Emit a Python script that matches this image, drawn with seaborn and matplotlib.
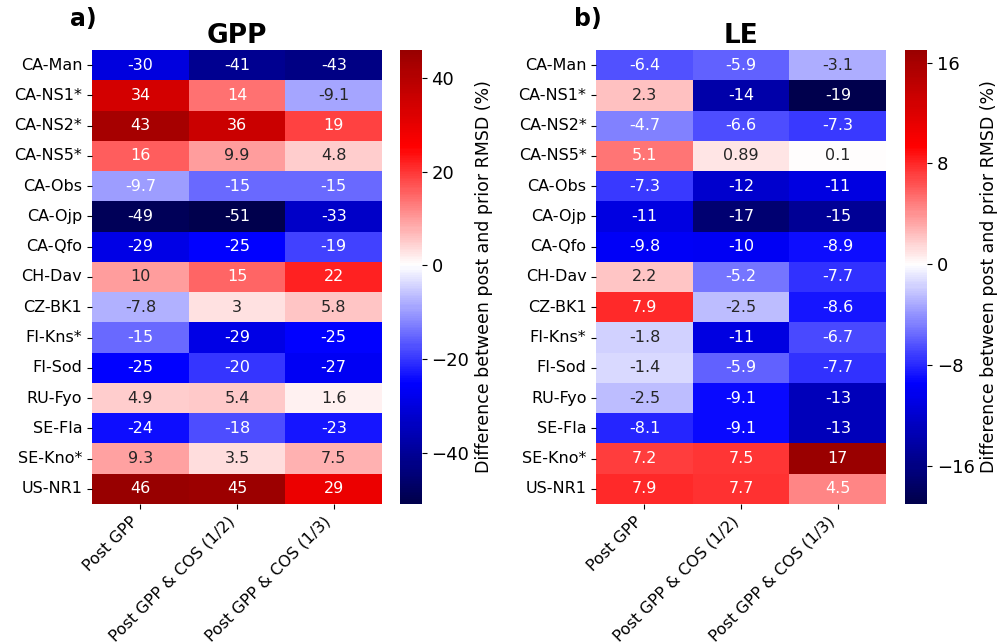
import numpy as np
import pandas as pd
import matplotlib
matplotlib.use("Agg")
import matplotlib.pyplot as plt
import seaborn as sns

sites = ["CA-Man", "CA-NS1*", "CA-NS2*", "CA-NS5*", "CA-Obs", "CA-Ojp", "CA-Qfo",
         "CH-Dav", "CZ-BK1", "FI-Kns*", "FI-Sod", "RU-Fyo", "SE-Fla", "SE-Kno*", "US-NR1"]
experiments = ["Post GPP", "Post GPP & COS (1/2)", "Post GPP & COS (1/3)"]

gpp_post = [-30, 34, 43, 16, -9.7, -49, -29, 10, -7.8, -15, -25, 4.9, -24, 9.3, 46]
gpp_cos2 = [-41, 14, 36, 9.9, -15, -51, -25, 15, 3, -29, -20, 5.4, -18, 3.5, 45]
gpp_cos3 = [-43, -9.1, 19, 4.8, -15, -33, -19, 22, 5.8, -25, -27, 1.6, -23, 7.5, 29]

le_post = [-6.4, 2.3, -4.7, 5.1, -7.3, -11, -9.8, 2.2, 7.9, -1.8, -1.4, -2.5, -8.1, 7.2, 7.9]
le_cos2 = [-5.9, -14, -6.6, 0.89, -12, -17, -10, -5.2, -2.5, -11, -5.9, -9.1, -9.1, 7.5, 7.7]
le_cos3 = [-3.1, -19, -7.3, 0.1, -11, -15, -8.9, -7.7, -8.6, -6.7, -7.7, -13, -13, 17, 4.5]

gpp = pd.DataFrame(np.array([gpp_post, gpp_cos2, gpp_cos3]).T, index=sites, columns=experiments)
le = pd.DataFrame(np.array([le_post, le_cos2, le_cos3]).T, index=sites, columns=experiments)

cbar_label = "Difference between post and prior RMSD (%)"

fig = plt.figure(figsize=(10.07, 6.44), dpi=100)

panels = [
    (gpp, "GPP", "a)", [0.0914, 0.2174, 0.288, 0.705], [0.397, 0.2174, 0.0218, 0.705], [-40, -20, 0, 20, 40]),
    (le, "LE", "b)", [0.592, 0.2174, 0.288, 0.705], [0.899, 0.2174, 0.0218, 0.705], [-16, -8, 0, 8, 16]),
]

for df, title, letter, pos, cpos, ticks in panels:
    ax = fig.add_axes(pos)
    cax = fig.add_axes(cpos)
    sns.heatmap(df, ax=ax, cbar_ax=cax, cmap="seismic", center=0, annot=True,
                annot_kws={"fontsize": 11.5},
                cbar_kws={"ticks": ticks, "label": cbar_label})
    ax.set_title(title, fontsize=19, fontweight="bold", pad=5)
    ax.text(-0.03, 1.042, letter, transform=ax.transAxes, fontsize=17, fontweight="bold",
            ha="center", va="bottom")
    ax.tick_params(axis="y", labelsize=11.5, rotation=0)
    ax.tick_params(axis="x", labelsize=11.5)
    plt.setp(ax.get_xticklabels(), rotation=45, ha="right")
    cax.tick_params(labelsize=13)
    cax.yaxis.label.set_size(12.5)

fig.savefig("out.png", dpi=100)
